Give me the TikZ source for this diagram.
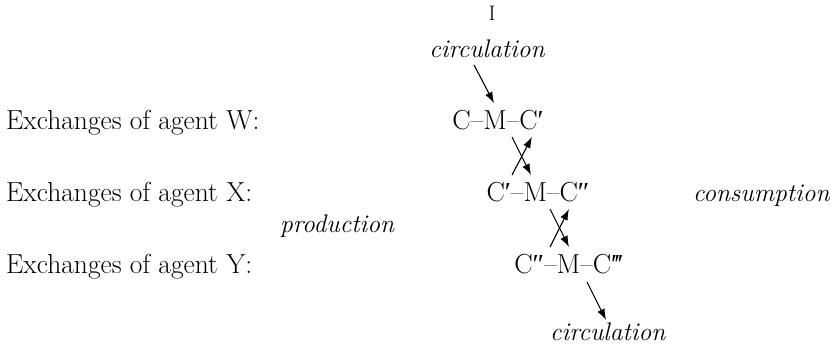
\documentclass[tikz,border=0pt]{standalone}
\usepackage{fontspec}
\newfontfamily\pf{Liberation Serif}
\usetikzlibrary{arrows.meta}
\newcommand{\pa}{{\pf ′}}
\newcommand{\pb}{{\pf ″}}
\newcommand{\pc}{{\pf ′\kern-0.1em′\kern-0.1em′}}
\begin{document}
\begin{tikzpicture}[x=1pt,y=-1pt,
  txt/.style={font=\fontsize{27.5}{31}\selectfont, inner sep=0pt, anchor=base},
  itx/.style={font=\fontsize{25.5}{30}\selectfont\itshape, inner sep=0pt, anchor=base},
  arr/.style={line width=1.1pt, -{Latex[length=11pt,width=8pt]}}]
\useasboundingbox (0,0) rectangle (838,349);
% row labels
\node[txt,anchor=base west] (lw) at (6,129) {Exchanges of agent W:};
\node[txt,anchor=base west] (lx) at (6,201) {Exchanges of agent X:};
\node[txt,anchor=base west] (ly) at (6,273) {Exchanges of agent Y:};
% top
\node[txt,font=\fontsize{21}{22}\selectfont] (top) at (492,20) {I};
\node[itx] (circ1) at (487,57) {circulation};
% formulas
\node[txt] (w) at (498,129) {C–M–C\pa};
\node[txt] (x) at (538,201) {C\pa–M–C\pb};
\node[txt] (y) at (569,273) {C\pb–M–C\pc};
% side labels
\node[itx,anchor=base west] (cons) at (693,201) {consumption};
\node[itx,anchor=base west] (prod) at (280,232) {production};
\node[itx,anchor=base west] (circ2) at (550,340) {circulation};
% arrow coordinates
\coordinate (a0s) at (474,65);  \coordinate (a0e) at (494,103);
\coordinate (c1a) at (512,137); \coordinate (c1b) at (531,175);
\coordinate (c1c) at (512,175); \coordinate (c1d) at (532,137);
\coordinate (c2a) at (550,209); \coordinate (c2b) at (569,247);
\coordinate (c2c) at (550,247); \coordinate (c2d) at (569,209);
\coordinate (a3s) at (587,282); \coordinate (a3e) at (606,320);
\draw[arr] (a0s) -- (a0e);
\draw[arr] (c1a) -- (c1b);
\draw[arr] (c1c) -- (c1d);
\draw[arr] (c2a) -- (c2b);
\draw[arr] (c2c) -- (c2d);
\draw[arr] (a3s) -- (a3e);
\end{tikzpicture}
\end{document}
